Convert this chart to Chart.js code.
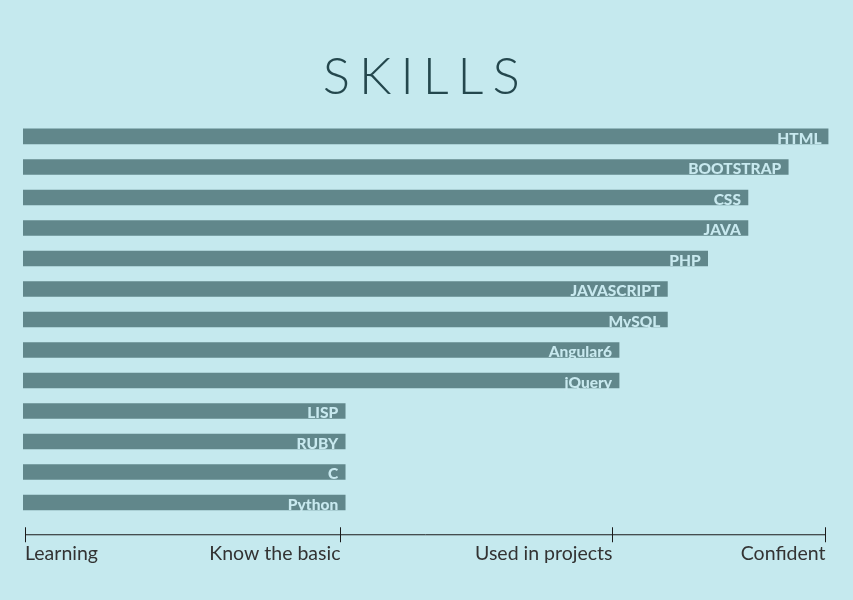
<!DOCTYPE html>
<html>
<head>
<meta charset="utf-8">
<script src="https://cdn.jsdelivr.net/npm/chart.js@4"></script>
<style>
  html, body { margin: 0; padding: 0; background: #c5e9ee; }
  #wrap { width: 853px; height: 600px; position: relative; }
  canvas { display: block; }
</style>
</head>
<body>
<div id="wrap"><canvas id="c" width="853" height="600"></canvas></div>
<script>
const categories = ['HTML','BOOTSTRAP','CSS','JAVA','PHP','JAVASCRIPT','MySQL','Angular6','jQuery','LISP','RUBY','C','Python'];
const skillValues = [100, 95, 90, 90, 85, 80, 80, 74, 74, 40, 40, 40, 40];
const levelTicks = [0.25, 39.4, 73.1, 99.6];
const levelLabels = ['Learning', 'Know the basic', 'Used in projects', 'Confident'];

const BAR_COLOR = '#61878b';
const LABEL_COLOR = '#c8e9ef';

const titleSpacing = {
  id: 'titleSpacing',
  beforeDraw(chart) { chart.ctx.letterSpacing = '9px'; },
  beforeDatasetsDraw(chart) { chart.ctx.letterSpacing = '0px'; }
};

const barLabels = {
  id: 'barLabels',
  afterDatasetsDraw(chart) {
    const ctx = chart.ctx;
    const meta = chart.getDatasetMeta(0);
    ctx.save();
    ctx.font = '900 15.5px Lato';
    ctx.fillStyle = LABEL_COLOR;
    ctx.textAlign = 'right';
    ctx.textBaseline = 'alphabetic';
    meta.data.forEach((bar, i) => {
      const p = bar.getProps(['x', 'y', 'height'], true);
      ctx.fillText(categories[i], p.x - 7, p.y + p.height / 2);
    });
    ctx.restore();
  }
};

const levelAxis = {
  id: 'levelAxis',
  afterDraw(chart) {
    const ctx = chart.ctx;
    const xs = chart.scales.x;
    const y0 = chart.chartArea.bottom + 17;
    const px = levelTicks.map(v => Math.round(xs.getPixelForValue(v)) + 0.5);
    ctx.save();
    ctx.strokeStyle = '#1a1a1a';
    ctx.lineWidth = 1;
    ctx.beginPath();
    ctx.moveTo(px[0], y0);
    ctx.lineTo(px[px.length - 1], y0);
    px.forEach(x => { ctx.moveTo(x, y0 - 7.5); ctx.lineTo(x, y0 + 7.5); });
    ctx.stroke();
    ctx.font = '19.5px Lato';
    ctx.fillStyle = '#333333';
    ctx.textBaseline = 'alphabetic';
    levelLabels.forEach((t, i) => {
      ctx.textAlign = i === 0 ? 'left' : 'right';
      ctx.fillText(t, i === 0 ? px[i] - 0.5 : px[i], y0 + 25);
    });
    ctx.restore();
  }
};

new Chart(document.getElementById('c'), {
  type: 'bar',
  data: {
    labels: categories,
    datasets: [{
      data: skillValues,
      backgroundColor: BAR_COLOR,
      borderWidth: 0,
      barThickness: 15
    }]
  },
  options: {
    indexAxis: 'y',
    responsive: false,
    animation: false,
    layout: { padding: { top: 0, left: 23, right: 24.5, bottom: 82.25 } },
    scales: {
      x: { display: false, min: 0, max: 100 },
      y: { display: false }
    },
    plugins: {
      legend: { display: false },
      tooltip: { enabled: false },
      title: {
        display: true,
        text: 'SKILLS',
        color: '#24474d',
        font: { family: 'Lato', size: 51, weight: 300 },
        padding: { top: 47, bottom: 13 }
      }
    }
  },
  plugins: [titleSpacing, barLabels, levelAxis]
});
</script>
</body>
</html>
